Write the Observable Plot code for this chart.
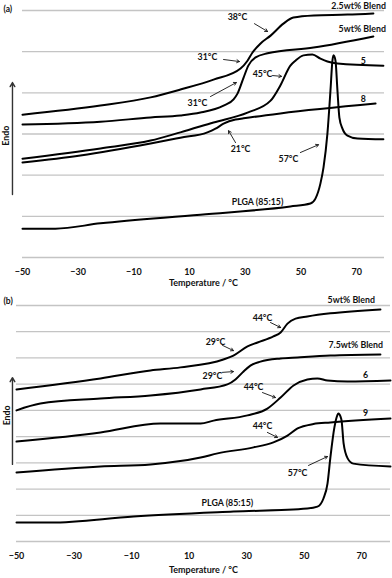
<!DOCTYPE html>
<html><head><meta charset="utf-8">
<script src="https://cdn.jsdelivr.net/npm/d3@7"></script>
<script src="https://cdn.jsdelivr.net/npm/@observablehq/plot@0.6"></script>
<style>
body{margin:0;background:#fff;}
#chart svg{display:block;}
</style></head><body><div id="chart"></div>
<script>
// ---------- shared ----------
const xTicks = [-50, -30, -10, 10, 30, 50, 70];
const xTitle = "Temperature / °C";
const gridA = [0, 1, 2, 3, 4, 5, 6];
const gridB = [0, 1, 2, 3, 4, 5, 6, 7, 8, 9];

// ---------- panel (a): [temperature °C, heat flow (arb.)] ----------
const a_blend25 = [[-50,3.47],[-22.0,3.69],[-4.0,3.89],[6.7,4.08],[18.6,4.32],[28.3,4.59],[30.8,4.78],[32.6,4.98],[35.5,5.20],[39.1,5.39],[43.7,5.68],[47.3,5.83],[54.6,5.88],[66.7,5.90],[76.0,5.93]];
const a_blend5 = [[-50,3.23],[-22.0,3.30],[-4.0,3.40],[6.7,3.45],[13.9,3.52],[22.2,3.69],[25.8,3.84],[27.2,3.98],[29.4,4.37],[31.1,4.66],[33.7,4.86],[38.0,4.96],[54.5,5.10],[76.0,5.37]];
const a_s5 = [[-50,2.40],[-22.0,2.65],[-4.0,2.84],[6.7,3.04],[18.6,3.28],[30.8,3.52],[39.1,3.81],[42.6,4.18],[46.2,4.66],[48.0,4.78],[50.9,4.91],[54.1,4.93],[57.0,4.83],[59.5,4.76],[63.1,4.71],[79.6,4.66]];
const a_s8 = [[-50,2.31],[-29.2,2.48],[-4.0,2.77],[6.7,2.91],[16.4,3.04],[19.3,3.13],[22.2,3.25],[26.5,3.35],[29.4,3.38],[42.6,3.50],[76.8,3.74]];
const a_plga = [[-50,0.70],[-38.2,0.70],[-22.0,0.83],[13.9,1.04],[46.2,1.24],[53.4,1.31],[55.2,1.43],[57.0,1.80],[58.1,2.19],[59.5,3.01],[60.6,4.06],[61.3,4.78],[61.7,4.91],[62.4,4.78],[63.1,4.06],[63.8,3.40],[64.9,3.13],[66.7,2.96],[70.3,2.89],[79.6,2.87]];

const a_labels = [
  {text:"38°C", T:27.2, v:5.83}, {text:"31°C", T:16.4, v:4.86}, {text:"45°C", T:36.2, v:4.45},
  {text:"31°C", T:12.8, v:3.74}, {text:"21°C", T:28.3, v:2.62}, {text:"57°C", T:45.5, v:2.40},
  {text:"PLGA (85:15)", T:34.4, v:1.34}, {text:"5", T:72.4, v:4.78}, {text:"8", T:72.4, v:3.84}
];
const a_endLabels = [{text:"2.5wt% Blend", T:80.5, v:6.10}, {text:"5wt% Blend", T:80.5, v:5.54}];
const a_arrows = [
  {T1:33.3, v1:5.68, T2:38.0, v2:5.49}, {T1:22.2, v1:4.81, T2:27.9, v2:4.76},
  {T1:39.8, v1:4.42, T2:43.0, v2:4.40}, {T1:17.5, v1:3.91, T2:26.8, v2:4.25},
  {T1:26.5, v1:2.79, T2:24.0, v2:3.08}, {T1:49.8, v1:2.55, T2:56.3, v2:2.74}
];
const a_endo = {T:-53.6, v1:1.53, v2:4.25, textT:-55.7, textV:2.96};

// ---------- panel (b) ----------
const b_blend5 = [[-50,5.80],[-20.8,6.22],[-3.4,6.52],[7.0,6.64],[21.9,6.94],[25.4,7.09],[30.3,7.44],[33.8,7.59],[39.3,7.82],[41.8,7.97],[44.2,8.31],[47.0,8.50],[51.1,8.58],[59.1,8.70],[76.5,8.85]];
const b_blend75 = [[-50,5.00],[-41.7,5.26],[-20.8,5.45],[-3.4,5.57],[14.0,5.80],[23.3,5.99],[26.1,6.18],[28.6,6.45],[31.3,6.71],[34.8,6.86],[41.8,6.98],[47.7,7.02],[59.1,7.09],[76.5,7.13]];
const b_s6 = [[-50,3.81],[-20.8,4.16],[0.0,4.50],[14.0,4.50],[18.5,4.61],[30.3,4.81],[37.2,5.07],[41.8,5.49],[46.3,5.95],[51.1,6.18],[54.6,6.22],[58.1,6.14],[65.0,6.10],[80.0,6.14]];
const b_s9 = [[-50,2.63],[-20.8,2.86],[-3.4,2.94],[14.0,3.20],[19.9,3.36],[32.4,3.59],[39.3,3.78],[44.2,4.04],[47.7,4.31],[53.2,4.48],[59.1,4.54],[80.0,4.69]];
const b_plga = [[-50,0.72],[-38.2,0.72],[-9.3,0.95],[25.4,1.14],[51.1,1.26],[54.6,1.33],[56.7,1.64],[58.1,2.21],[59.1,3.20],[60.5,4.35],[61.5,4.81],[61.9,4.88],[62.6,4.77],[63.0,4.61],[63.7,3.74],[65.1,3.17],[67.1,2.97],[80.0,2.86]];

const b_labels = [
  {text:"44°C", T:35.5, v:8.50}, {text:"29°C", T:19.2, v:7.59}, {text:"29°C", T:18.1, v:6.29},
  {text:"44°C", T:32.4, v:5.87}, {text:"44°C", T:35.5, v:4.39}, {text:"57°C", T:47.7, v:2.59},
  {text:"PLGA (85:15)", T:23.3, v:1.45}, {text:"6", T:71.3, v:6.33}, {text:"9", T:71.3, v:4.88}
];
const b_endLabels = [{text:"5wt% Blend", T:74.6, v:9.19}, {text:"7.5wt% Blend", T:77.4, v:7.48}];
const b_arrows = [
  {T1:38.3, v1:8.35, T2:41.8, v2:8.16}, {T1:21.6, v1:7.48, T2:25.4, v2:7.28},
  {T1:21.6, v1:6.45, T2:25.4, v2:6.48}, {T1:35.5, v1:5.68, T2:40.0, v2:5.49},
  {T1:37.2, v1:4.16, T2:40.7, v2:3.97}, {T1:51.5, v1:2.90, T2:58.1, v2:3.24}
];
const b_endo = {T:-51.4, v1:2.94, v2:6.25, textT:-53.1, textV:4.81};

// ---------- drawing ----------
const rows = (series) => series.flatMap(([name, pts]) => pts.map(([T, v]) => ({name, T, v})));
const FONT = "Lato, 'Open Sans', sans-serif";

function panel(o) {
  return Plot.plot({
    width: 392, height: o.height,
    marginTop: o.mt, marginBottom: o.mb, marginLeft: o.ml, marginRight: o.mr,
    x: {domain: [-50, 80]},
    y: {domain: o.yDomain, axis: null},
    style: {fontFamily: FONT, fontWeight: "bold", fontSize: "9px", color: "#111", background: "#fff"},
    marks: [
      Plot.ruleY(o.grid, {stroke: "#c4c4c4", strokeWidth: 1.3}),
      Plot.axisX(xTicks, {tickSize: 0, tickPadding: o.tickPad, label: null, fontWeight: "bold", fontSize: 9}),
      Plot.text([xTitle], {frameAnchor: "bottom", dy: o.titleDy, fontWeight: "bold", fontSize: 9}),
      Plot.text([o.tag], {frameAnchor: "top-left", textAnchor: "start", dx: 3 - o.ml, dy: o.tagDy, fontWeight: "bold", fontSize: 8.5}),
      Plot.line(rows(o.series), {x: "T", y: "v", z: "name", curve: "monotone-x", stroke: "#000", strokeWidth: 2}),
      Plot.arrow(o.arrows, {x1: "T1", y1: "v1", x2: "T2", y2: "v2", stroke: "#111", strokeWidth: 0.9, headLength: 5}),
      Plot.text(o.labels, {x: "T", y: "v", text: "text", fontWeight: "bold", fontSize: 8.8}),
      Plot.text(o.endLabels, {x: "T", y: "v", text: "text", textAnchor: "end", fontWeight: "bold", fontSize: 8.8}),
      Plot.arrow([o.endo], {x1: "T", y1: "v1", x2: "T", y2: "v2", stroke: "#333", strokeWidth: 1.4, headLength: 5}),
      Plot.text([o.endo], {x: "textT", y: "textV", text: () => "Endo", rotate: -90, fontWeight: "bold", fontSize: 8.8})
    ]
  });
}

const chartA = panel({
  height: 290, mt: 10, mb: 33, ml: 22, mr: 8, yDomain: [0, 6], grid: gridA,
  tickPad: 11, titleDy: 28, tag: "(a)", tagDy: -5,
  series: [["2.5wt% Blend", a_blend25], ["5wt% Blend", a_blend5], ["5", a_s5], ["8", a_s8], ["PLGA (85:15)", a_plga]],
  labels: a_labels, endLabels: a_endLabels, arrows: a_arrows, endo: a_endo
});
const chartB = panel({
  height: 288, mt: 15, mb: 37, ml: 16, mr: 2, yDomain: [0, 9], grid: gridB,
  tickPad: 11, titleDy: 31, tag: "(b)", tagDy: -8,
  series: [["5wt% Blend", b_blend5], ["7.5wt% Blend", b_blend75], ["6", b_s6], ["9", b_s9], ["PLGA (85:15)", b_plga]],
  labels: b_labels, endLabels: b_endLabels, arrows: b_arrows, endo: b_endo
});
document.getElementById("chart").append(chartA, chartB);
</script>
</body></html>
